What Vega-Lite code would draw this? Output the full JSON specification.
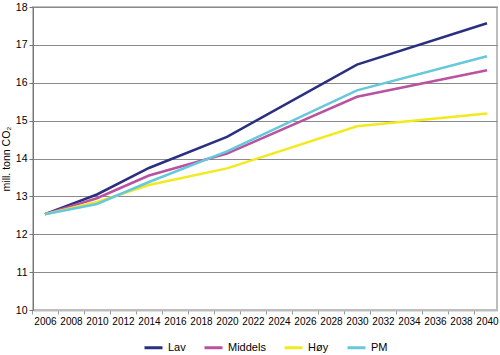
{
  "$schema": "https://vega.github.io/schema/vega-lite/v6.json",
  "autosize": {"type": "none"},
  "width": 464,
  "height": 303,
  "padding": {"left": 33, "top": 7, "right": 3, "bottom": 45},
  "background": "white",
  "config": {
    "font": "Liberation Sans",
    "view": {"stroke": "#bdbdbd", "strokeWidth": 2}
  },
  "data": {
    "values": [
      {"year": 2006, "scenario": "Lav", "value": 12.53},
      {"year": 2010, "scenario": "Lav", "value": 13.05},
      {"year": 2014, "scenario": "Lav", "value": 13.75},
      {"year": 2020, "scenario": "Lav", "value": 14.57},
      {"year": 2030, "scenario": "Lav", "value": 16.48},
      {"year": 2040, "scenario": "Lav", "value": 17.57},
      {"year": 2006, "scenario": "Middels", "value": 12.53},
      {"year": 2010, "scenario": "Middels", "value": 12.95},
      {"year": 2014, "scenario": "Middels", "value": 13.55},
      {"year": 2020, "scenario": "Middels", "value": 14.13},
      {"year": 2030, "scenario": "Middels", "value": 15.63},
      {"year": 2040, "scenario": "Middels", "value": 16.33},
      {"year": 2006, "scenario": "Høy", "value": 12.53},
      {"year": 2010, "scenario": "Høy", "value": 12.85},
      {"year": 2014, "scenario": "Høy", "value": 13.3},
      {"year": 2020, "scenario": "Høy", "value": 13.74},
      {"year": 2030, "scenario": "Høy", "value": 14.85},
      {"year": 2040, "scenario": "Høy", "value": 15.19},
      {"year": 2006, "scenario": "PM", "value": 12.53},
      {"year": 2010, "scenario": "PM", "value": 12.8},
      {"year": 2014, "scenario": "PM", "value": 13.38},
      {"year": 2020, "scenario": "PM", "value": 14.19},
      {"year": 2030, "scenario": "PM", "value": 15.8},
      {"year": 2040, "scenario": "PM", "value": 16.7}
    ]
  },
  "mark": {"type": "line", "strokeWidth": 2.5},
  "encoding": {
    "x": {
      "field": "year",
      "type": "quantitative",
      "scale": {"domain": [2005.08, 2040.77], "nice": false, "zero": false},
      "axis": {
        "title": null,
        "values": [2006, 2008, 2010, 2012, 2014, 2016, 2018, 2020, 2022, 2024, 2026, 2028, 2030, 2032, 2034, 2036, 2038, 2040],
        "format": "d",
        "grid": false,
        "tickOffset": -13,
        "labelOffset": 13,
        "tickSize": 4,
        "tickColor": "#999999",
        "domainColor": "#bdbdbd",
        "domainWidth": 2,
        "labelFontSize": 10,
        "labelColor": "#000000",
        "labelPadding": 2,
        "labelOverlap": false,
        "labelFlush": false
      }
    },
    "y": {
      "field": "value",
      "type": "quantitative",
      "scale": {"domain": [10, 18], "nice": false, "zero": false},
      "axis": {
        "title": "mill. tonn CO₂",
        "titleFontWeight": "normal",
        "titleFontSize": 10.5,
        "titleColor": "#000000",
        "titlePadding": 4,
        "values": [10, 11, 12, 13, 14, 15, 16, 17, 18],
        "grid": true,
        "gridColor": "#8a8a8a",
        "gridWidth": 1,
        "tickSize": 4,
        "tickColor": "#777777",
        "domainColor": "#777777",
        "domainWidth": 1,
        "labelFontSize": 10.5,
        "labelColor": "#000000",
        "labelPadding": 2
      }
    },
    "color": {
      "field": "scenario",
      "type": "nominal",
      "scale": {
        "domain": ["Lav", "Middels", "Høy", "PM"],
        "range": ["#2b2f7f", "#b9529f", "#f3ea1d", "#66c8db"]
      },
      "legend": {
        "title": null,
        "orient": "none",
        "direction": "horizontal",
        "legendX": 110,
        "legendY": 330,
        "symbolType": "stroke",
        "symbolSize": 324,
        "symbolStrokeWidth": 3,
        "labelFontSize": 11,
        "labelColor": "#000000",
        "labelOffset": 4,
        "columnPadding": 12
      }
    }
  }
}
